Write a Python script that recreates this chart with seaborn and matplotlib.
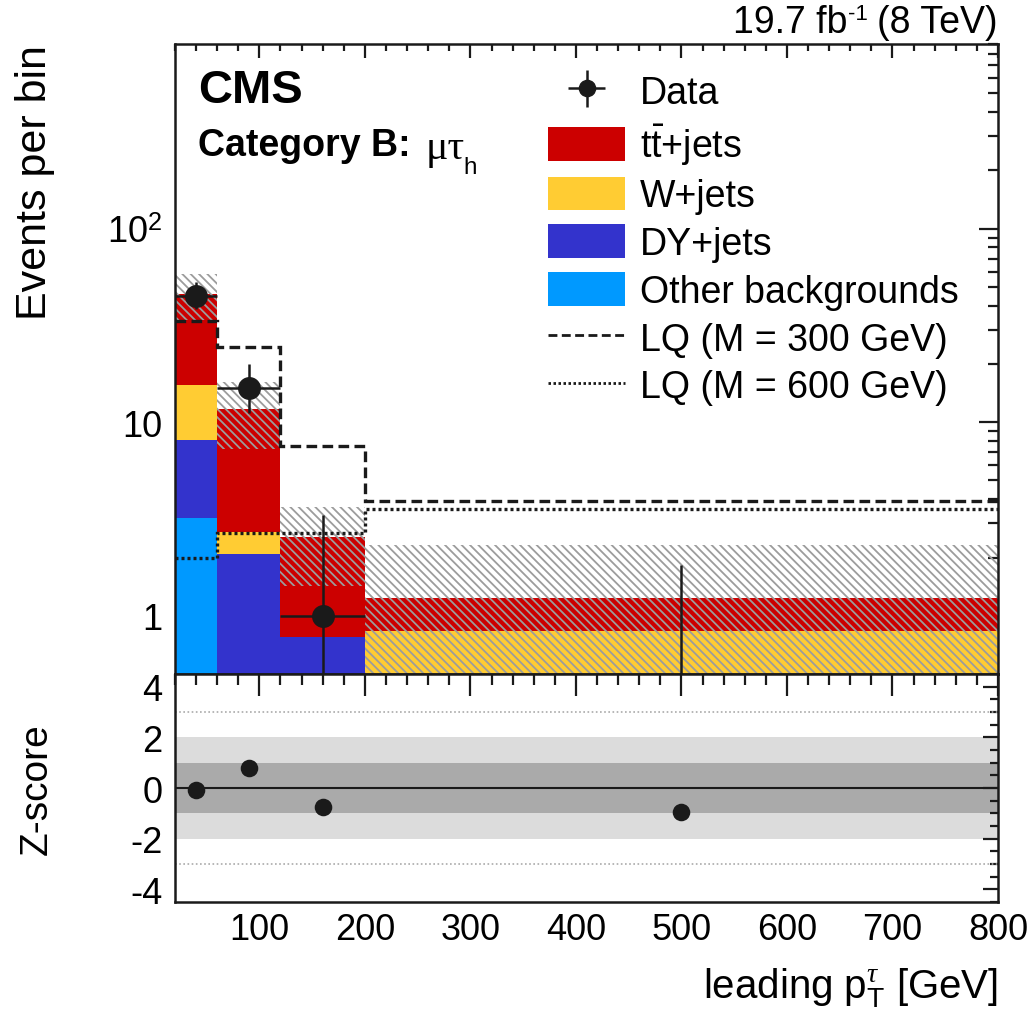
import numpy as np
import pandas as pd
import matplotlib
matplotlib.use("Agg")
import matplotlib.pyplot as plt
from matplotlib.patches import Patch
from matplotlib.lines import Line2D
from matplotlib.transforms import offset_copy
from matplotlib.ticker import FixedLocator, FixedFormatter, MultipleLocator, NullFormatter, LogLocator
import seaborn as sns

# ---- binning (leading tau pT, GeV) ----
bin_edges = [20, 60, 120, 200, 800]
bin_centers = [40, 90, 160, 500]

# ---- stacked background expectations (events per bin) ----
ttbar_jets = [30.6, 8.98, 1.76, 0.397]
w_jets = [7.49, 0.64, 0.0, 0.833]
dy_jets = [4.91, 2.08, 0.78, 0.0]
other_bkg = [3.20, 0.0, 0.0, 0.0]
bkg_unc = [12.4, 4.4, 1.12, 1.09]

# ---- leptoquark signal hypotheses ----
lq_300 = [33.2, 24.6, 7.58, 3.94]
lq_600 = [2.00, 2.67, 2.67, 3.55]

# ---- observed data with Poisson (Garwood) intervals ----
data_counts = [45, 15, 1, 0]
data_err_lo = [6.67, 3.83, 0.83, 0.0]
data_err_hi = [7.76, 4.95, 2.30, 1.84]

# ---- pull of data w.r.t. background ----
z_score = [-0.07, 0.81, -0.76, -0.94]

process_names = [r"t$\bar{\mathregular{t}}$+jets", "W+jets", "DY+jets", "Other backgrounds"]
process_values = [ttbar_jets, w_jets, dy_jets, other_bkg]
process_colors = ["#cc0000", "#ffcc33", "#3333cc", "#0099ff"]

sns.set_theme(style="white")
plt.rcParams["font.family"] = ["Liberation Sans", "DejaVu Sans"]
plt.rcParams["mathtext.fontset"] = "custom"
plt.rcParams["mathtext.rm"] = "Liberation Sans"
plt.rcParams["mathtext.it"] = "Liberation Serif:italic"
plt.rcParams["mathtext.sf"] = "Liberation Sans"
plt.rcParams["hatch.linewidth"] = 1.3
plt.rcParams["axes.unicode_minus"] = False
for key in ("text.color", "axes.labelcolor", "xtick.color", "ytick.color",
            "xtick.labelcolor", "ytick.labelcolor"):
    plt.rcParams[key] = "black"

fig = plt.figure(figsize=(10.28, 10.20), dpi=100)
ax1 = fig.add_axes([0.1702, 0.3382, 0.8006, 0.6177])
ax2 = fig.add_axes([0.1702, 0.1147, 0.8006, 0.2235])

# ---- stacked histogram of backgrounds ----
rows = []
for name, vals in zip(process_names, process_values):
    for c, v in zip(bin_centers, vals):
        rows.append({"pt": c, "events": v, "process": name})
bkg_df = pd.DataFrame(rows)

sns.histplot(data=bkg_df, x="pt", weights="events", hue="process",
             hue_order=process_names, bins=bin_edges, multiple="stack",
             palette=dict(zip(process_names, process_colors)), alpha=1,
             linewidth=0, legend=False, ax=ax1, zorder=1)

total_bkg = np.sum(np.array(process_values), axis=0)
unc = np.array(bkg_unc)
ax1.stairs(total_bkg + unc, bin_edges, baseline=np.clip(total_bkg - unc, 1e-3, None),
           fill=True, facecolor="none", edgecolor="#9c9c9c", hatch="\\\\\\\\",
           linewidth=0, zorder=2)

# ---- signal curves ----
ax1.stairs(lq_300, bin_edges, baseline=None, color="k", linewidth=2.4,
           linestyle=(0, (3.2, 1.6)), zorder=3)
ax1.stairs(lq_600, bin_edges, baseline=None, color="k", linewidth=2.4,
           linestyle=(0, (0.9, 0.9)), zorder=3)

# ---- data ----
xerr = np.diff(bin_edges) / 2.0
data_y = np.array(data_counts, dtype=float)
data_y_plot = np.where(data_y > 0, data_y, 1e-6)
data_h = ax1.errorbar(bin_centers, data_y_plot, xerr=xerr,
                      yerr=[data_err_lo, data_err_hi], fmt="o", color="k",
                      ms=15.5, elinewidth=1.8, capsize=0, zorder=5)

ax1.set_yscale("log")
ax1.set_xlim(20, 800)
ax1.set_ylim(0.5, 900)
ax1.set_xlabel("")
ax1.set_ylabel("Events per bin", fontsize=31, loc="top")
ax1.yaxis.set_label_coords(-0.146, 1.0)

ax1.yaxis.set_major_locator(FixedLocator([1, 10, 100]))
ax1.yaxis.set_major_formatter(FixedFormatter(["1", "10", r"10$^\mathregular{2}$"]))
ax1.yaxis.set_minor_locator(LogLocator(base=10, subs=np.arange(2, 10)))
ax1.yaxis.set_minor_formatter(NullFormatter())
ax1.xaxis.set_major_locator(MultipleLocator(100))
ax1.xaxis.set_minor_locator(MultipleLocator(20))

ax1.tick_params(axis="both", which="both", direction="in", top=True, right=True,
                labelbottom=False, labelsize=26, width=1.6, pad=9, color="k")
ax1.tick_params(axis="y", which="major", length=14)
ax1.tick_params(axis="y", which="minor", length=7)
ax1.tick_params(axis="x", which="major", length=10)
ax1.tick_params(axis="x", which="minor", length=5)

# ---- labels ----
ax1.text(0.028, 0.962, "CMS", transform=ax1.transAxes, fontsize=34,
         fontweight="bold", ha="left", va="top")
ax1.text(0.028, 0.868, "Category B:", transform=ax1.transAxes, fontsize=27,
         fontweight="bold", ha="left", va="top")
ax1.text(0.304, 0.866, "μτ", transform=ax1.transAxes, fontsize=30,
         ha="left", va="top", family=["Liberation Serif", "DejaVu Serif"])
ax1.text(0.351, 0.822, "h", transform=ax1.transAxes, fontsize=17.5,
         ha="left", va="top")

# luminosity / energy label, built right to left so the exponent keeps a plain hyphen
renderer = fig.canvas.get_renderer()
lumi_y = 1.019
t_energy = ax1.text(1.0, lumi_y, "(8 TeV)", transform=ax1.transAxes,
                    fontsize=27, ha="right", va="baseline")
w_energy = t_energy.get_window_extent(renderer).width
gap = 9.0
t_exp = ax1.text(1.0, lumi_y, "-1",
                 transform=offset_copy(ax1.transAxes, fig, x=-(w_energy + gap), y=13, units="dots"),
                 fontsize=16, ha="right", va="baseline")
w_exp = t_exp.get_window_extent(renderer).width
ax1.text(1.0, lumi_y, "19.7 fb",
         transform=offset_copy(ax1.transAxes, fig, x=-(w_energy + gap + w_exp + 1), y=0, units="dots"),
         fontsize=27, ha="right", va="baseline")

legend_handles = [data_h] + [Patch(facecolor=c, edgecolor="none") for c in process_colors] + [
    Line2D([], [], color="k", linewidth=2.0, linestyle=(0, (3.2, 1.6))),
    Line2D([], [], color="k", linewidth=2.0, linestyle=(0, (0.9, 0.9))),
]
legend_labels = ["Data"] + process_names + ["LQ (M = 300 GeV)", "LQ (M = 600 GeV)"]
ax1.legend(legend_handles, legend_labels, loc="upper left",
           bbox_to_anchor=(0.4535, 0.953), frameon=False, fontsize=27,
           handlelength=2.05, handleheight=1.0, handletextpad=0.4,
           labelspacing=0.27, borderpad=0, borderaxespad=0, markerscale=0.75)

# ---- Z-score panel ----
ax2.axhspan(-2, 2, color="#dcdcdc", linewidth=0, zorder=0)
ax2.axhspan(-1, 1, color="#aaaaaa", linewidth=0, zorder=0)
ax2.axhline(0, color="k", linewidth=1.5, zorder=1)
for lv in (-3, 3):
    ax2.axhline(lv, color="#aaaaaa", linewidth=1.2, linestyle=(0, (1, 1.5)), zorder=1)
sns.scatterplot(x=bin_centers, y=z_score, color="k", s=160, linewidth=0,
                ax=ax2, zorder=5)

ax2.set_xlim(20, 800)
ax2.set_ylim(-4.5, 4.5)
ax2.xaxis.set_major_locator(MultipleLocator(100))
ax2.xaxis.set_minor_locator(MultipleLocator(20))
ax2.yaxis.set_major_locator(MultipleLocator(2))
ax2.yaxis.set_minor_locator(MultipleLocator(0.5))
ax2.tick_params(axis="both", which="both", direction="in", top=True, right=True,
                labelsize=26, width=1.6, color="k")
ax2.tick_params(axis="x", which="major", length=16, pad=7)
ax2.tick_params(axis="x", which="minor", length=8)
ax2.tick_params(axis="y", which="major", length=11, pad=9)
ax2.tick_params(axis="y", which="minor", length=6)
ax2.set_ylabel("Z-score", fontsize=28)
ax2.yaxis.set_label_coords(-0.146, 0.5)
ax2.set_xlabel(r"leading p$_\mathregular{T}^{\tau}$ [GeV]", fontsize=29, loc="right")
ax2.xaxis.set_label_coords(1.0, -0.28)

for ax in (ax1, ax2):
    for sp in ax.spines.values():
        sp.set_linewidth(1.8)
        sp.set_color("k")
        sp.set_zorder(10)

fig.savefig("out.png", dpi=100, facecolor="white")
